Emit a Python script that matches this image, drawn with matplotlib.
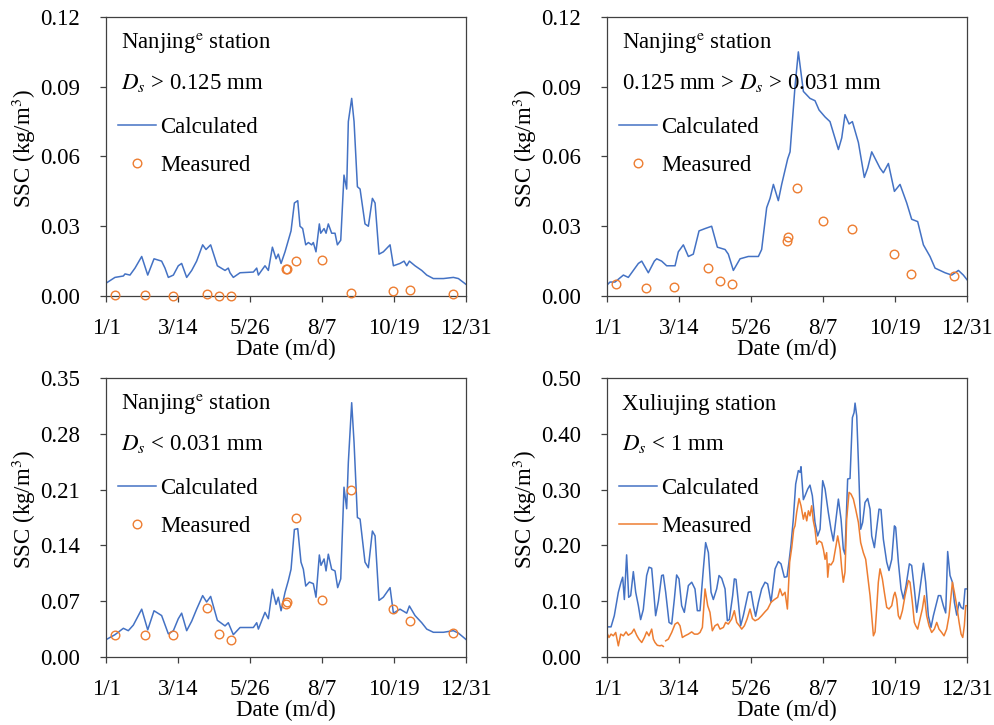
import numpy as np
import matplotlib
matplotlib.use("Agg")
import matplotlib.pyplot as plt

plt.rcParams['font.family'] = ['Liberation Serif', 'DejaVu Serif']
plt.rcParams['mathtext.fontset'] = 'stix'

BLUE = '#4472C4'
ORANGE = '#ED7D31'

# x axis: day index from 1/1 (leap year), ticks every 73 days
tick_days = [0, 73, 146, 219, 292, 365]
tick_labels = ['1/1', '3/14', '5/26', '8/7', '10/19', '12/31']

# ---- Panel (a): Nanjing, Ds > 0.125 mm ----
a_calc_day = [0, 9.1, 17.6, 19.3, 24.3, 29.4, 36.2, 42.3, 48.7, 56.4, 59.8, 63.2, 68.3, 73.3, 76.7,
              81.8, 86.9, 91.9, 98.0, 101.4, 106.1, 112.9, 120.7, 124.0, 125.7, 129.1, 135.9, 149.4,
              152.8, 154.5, 157.8, 161.2, 164.6, 168.7, 172.4, 174.7, 177.5, 181.5, 184.9, 187.6,
              191.0, 194.4, 196.7, 199.4, 202.5, 205.2, 208.5, 210.2, 212.9, 216.3, 217.7, 221.1,
              223.1, 225.4, 228.8, 232.2, 234.6, 238.0, 241.3, 244.0, 245.7, 249.1, 251.5, 254.9,
              257.6, 262.6, 266.0, 270.1, 272.8, 276.8, 281.2, 288.0, 291.4, 298.1, 302.2, 304.9,
              307.6, 313.3, 320.1, 325.2, 331.9, 342.1, 352.2, 357.3, 365]
a_calc_val = [0.0055, 0.008, 0.0086, 0.0095, 0.009, 0.012, 0.017, 0.009, 0.016, 0.015, 0.012, 0.008,
              0.009, 0.013, 0.014, 0.008, 0.011, 0.015, 0.022, 0.020, 0.022, 0.013, 0.011, 0.012,
              0.010, 0.008, 0.010, 0.0103, 0.012, 0.009, 0.011, 0.013, 0.011, 0.021, 0.016, 0.018,
              0.014, 0.019, 0.024, 0.028, 0.040, 0.041, 0.030, 0.029, 0.022, 0.023, 0.022, 0.023,
              0.019, 0.031, 0.027, 0.029, 0.027, 0.031, 0.027, 0.027, 0.022, 0.024, 0.052, 0.046,
              0.075, 0.085, 0.075, 0.047, 0.046, 0.031, 0.030, 0.042, 0.040, 0.018, 0.019, 0.022,
              0.013, 0.014, 0.015, 0.013, 0.015, 0.013, 0.011, 0.009, 0.0075, 0.0075, 0.008,
              0.0075, 0.005]

meas_day = [9, 40, 68, 102, 115, 127, 182, 184, 193, 219, 248, 291, 308, 352]
a_meas_val = [0.0003, 0.0006, 0.0001, 0.001, 0.0, 0.0, 0.0115, 0.0115, 0.015, 0.0154,
              0.0011, 0.0023, 0.0026, 0.001]

# ---- Panel (b): Nanjing, 0.125 > Ds > 0.031 mm ----
b_calc_day = [0, 3.0, 8.1, 16.6, 21.6, 31.8, 35.2, 41.9, 48.0, 50.4, 55.4, 60.5, 69.0, 72.3, 77.4,
              82.5, 87.5, 93.3, 99.4, 106.1, 111.9, 119.7, 123.0, 128.1, 134.9, 143.3, 153.5, 156.8,
              161.9, 165.3, 168.7, 173.7, 177.1, 183.2, 185.6, 190.6, 194.0, 199.1, 205.8, 210.9,
              215.0, 221.1, 226.1, 234.6, 238.0, 241.3, 245.4, 248.8, 254.9, 260.9, 264.3, 268.4,
              276.8, 280.2, 285.3, 291.4, 297.1, 303.9, 308.9, 315.0, 320.8, 327.5, 332.6, 342.7,
              349.5, 356.3, 361.3, 365]
b_calc_val = [0.0047, 0.006, 0.006, 0.009, 0.008, 0.014, 0.015, 0.010, 0.015, 0.016, 0.015, 0.013,
              0.013, 0.019, 0.022, 0.017, 0.018, 0.028, 0.029, 0.030, 0.021, 0.020, 0.018, 0.011,
              0.016, 0.017, 0.017, 0.020, 0.038, 0.042, 0.048, 0.041, 0.048, 0.059, 0.062, 0.090,
              0.105, 0.088, 0.085, 0.084, 0.080, 0.077, 0.075, 0.063, 0.068, 0.078, 0.074, 0.075,
              0.066, 0.051, 0.055, 0.062, 0.055, 0.053, 0.057, 0.045, 0.048, 0.040, 0.033, 0.032,
              0.022, 0.017, 0.012, 0.010, 0.009, 0.011, 0.009, 0.007]
b_meas_val = [0.0053, 0.0036, 0.0037, 0.012, 0.0066, 0.005, 0.0237, 0.0254, 0.0465, 0.0323,
              0.029, 0.018, 0.0093, 0.0085]

# ---- Panel (c): Nanjing, Ds < 0.031 mm ----
c_calc_day = [0, 9.1, 17.6, 22.6, 27.7, 36.2, 42.3, 48.7, 56.4, 63.2, 68.3, 73.3, 76.7, 81.8, 86.9,
              91.9, 98.0, 102.0, 106.1, 112.9, 120.7, 124.0, 129.1, 135.9, 149.4, 152.8, 154.5,
              161.2, 164.6, 168.7, 172.4, 174.7, 177.5, 181.5, 184.9, 187.6, 191.0, 194.4, 197.7,
              200.1, 202.5, 206.2, 210.2, 212.9, 216.3, 218.0, 221.1, 223.1, 225.4, 228.8, 232.2,
              234.9, 238.0, 241.3, 244.0, 245.7, 249.1, 251.5, 254.9, 257.6, 262.6, 266.0, 270.1,
              272.8, 276.8, 281.2, 288.0, 291.4, 298.1, 302.2, 304.9, 307.6, 313.3, 320.1, 325.2,
              331.9, 342.1, 352.2, 357.3, 365]
c_calc_val = [0.0217, 0.028, 0.036, 0.033, 0.040, 0.060, 0.034, 0.058, 0.052, 0.029, 0.033, 0.048,
              0.055, 0.033, 0.045, 0.060, 0.077, 0.069, 0.076, 0.046, 0.039, 0.043, 0.028, 0.037,
              0.037, 0.043, 0.035, 0.056, 0.048, 0.085, 0.066, 0.075, 0.058, 0.081, 0.096, 0.110,
              0.160, 0.161, 0.119, 0.110, 0.089, 0.094, 0.092, 0.075, 0.128, 0.115, 0.123, 0.108,
              0.129, 0.110, 0.108, 0.087, 0.098, 0.213, 0.186, 0.244, 0.319, 0.269, 0.175, 0.173,
              0.119, 0.112, 0.158, 0.152, 0.071, 0.075, 0.087, 0.055, 0.060, 0.057, 0.055, 0.064,
              0.052, 0.043, 0.035, 0.031, 0.031, 0.033, 0.030, 0.022]
c_meas_val = [0.0276, 0.027, 0.028, 0.061, 0.029, 0.0217, 0.067, 0.069, 0.174, 0.0715,
              0.209, 0.060, 0.0455, 0.030]

# ---- Panel (d): Xuliujing, Ds < 1 mm ----
d_calc_day = [0, 4.1, 7.4, 11.5, 14.2, 15.9, 17.6, 19.9, 22.0, 24.0, 26.7, 29.1, 31.8, 34.1, 36.8,
              40.2, 42.6, 45.3, 47.7, 49.3, 52.1, 55.4, 57.1, 59.5, 62.9, 65.6, 68.3, 70.6, 73.0,
              75.7, 78.4, 82.5, 85.9, 89.2, 91.6, 94.3, 97.7, 100.0, 102.8, 105.5, 107.8, 111.2,
              113.6, 116.3, 119.7, 122.0, 124.0, 127.4, 129.1, 130.8, 133.2, 135.5, 138.2, 143.3,
              146.0, 148.4, 150.7, 153.5, 156.8, 160.2, 162.9, 166.3, 170.4, 173.7, 176.4, 179.8,
              182.5, 184.5, 186.6, 188.9, 191.3, 194.0, 195.7, 196.7, 199.1, 200.8, 203.5, 205.8,
              208.2, 210.9, 213.6, 216.0, 218.7, 221.1, 224.4, 227.1, 229.5, 232.2, 234.6, 237.3,
              239.6, 241.3, 244.0, 246.4, 248.8, 250.5, 251.5, 253.2, 254.9, 257.2, 259.2, 261.6,
              264.3, 266.7, 268.4, 271.1, 273.4, 275.8, 277.8, 280.2, 283.6, 285.9, 288.7, 291.4,
              292.7, 295.4, 298.1, 300.5, 303.2, 306.6, 308.9, 311.6, 314.0, 316.4, 320.8, 323.1,
              325.8, 328.5, 330.9, 336.0, 338.3, 341.0, 343.4, 345.4, 347.8, 350.2, 352.2, 354.6,
              357.0, 359.0, 361.3, 363.0, 365]
d_calc_val = [0.054, 0.054, 0.074, 0.116, 0.134, 0.143, 0.103, 0.183, 0.107, 0.110, 0.153, 0.116,
              0.092, 0.067, 0.085, 0.146, 0.161, 0.159, 0.110, 0.074, 0.100, 0.146, 0.147, 0.116,
              0.062, 0.059, 0.104, 0.147, 0.140, 0.092, 0.080, 0.128, 0.134, 0.122, 0.083, 0.083,
              0.158, 0.205, 0.187, 0.116, 0.103, 0.122, 0.146, 0.141, 0.122, 0.065, 0.067, 0.110,
              0.140, 0.139, 0.098, 0.056, 0.074, 0.116, 0.117, 0.092, 0.073, 0.098, 0.122, 0.134,
              0.131, 0.098, 0.158, 0.171, 0.167, 0.143, 0.144, 0.170, 0.202, 0.247, 0.310, 0.334,
              0.331, 0.341, 0.282, 0.289, 0.301, 0.308, 0.289, 0.241, 0.217, 0.229, 0.316, 0.301,
              0.259, 0.229, 0.208, 0.247, 0.283, 0.247, 0.193, 0.184, 0.319, 0.320, 0.429, 0.438,
              0.455, 0.432, 0.349, 0.229, 0.241, 0.277, 0.284, 0.265, 0.217, 0.196, 0.229, 0.265,
              0.264, 0.211, 0.170, 0.155, 0.175, 0.235, 0.232, 0.170, 0.122, 0.104, 0.128, 0.167,
              0.164, 0.122, 0.080, 0.110, 0.168, 0.134, 0.074, 0.053, 0.074, 0.110, 0.110, 0.092,
              0.079, 0.189, 0.146, 0.134, 0.098, 0.075, 0.098, 0.089, 0.086, 0.122, 0.122]

d_meas_day = [0, 2.0, 4.1, 6.4, 8.8, 11.5, 13.9, 16.6, 19.3, 21.6, 25.0, 27.4, 30.1, 32.4, 35.2,
              37.9, 40.2, 42.6, 45.3, 47.0, 48.7, 51.0, 53.7, 55.4, 57.1, 58.3, 59.5, 62.2, 65.6,
              69.0, 71.7, 74.0, 76.4, 79.1, 82.5, 85.9, 88.6, 91.9, 94.3, 96.7, 99.4, 102.1, 104.4,
              106.8, 109.5, 112.2, 114.6, 118.0, 120.3, 123.0, 126.4, 129.1, 131.5, 134.2, 136.6,
              139.3, 142.0, 145.0, 147.4, 150.1, 153.5, 156.8, 160.2, 162.9, 166.3, 169.7, 173.1,
              175.4, 177.8, 180.5, 182.9, 183.9, 185.2, 187.3, 189.3, 190.6, 192.3, 194.7, 196.7,
              199.1, 200.8, 202.5, 204.2, 205.8, 207.5, 209.2, 210.9, 212.6, 215.0, 217.7, 219.4,
              221.1, 222.7, 223.8, 225.1, 227.1, 229.5, 231.9, 233.9, 236.3, 238.0, 239.6, 241.3,
              243.0, 245.4, 247.4, 249.8, 252.1, 254.9, 257.2, 259.9, 262.3, 264.3, 266.7, 268.4,
              270.1, 271.8, 273.4, 275.1, 276.8, 279.2, 281.2, 283.6, 285.9, 288.7, 290.7, 292.0,
              293.7, 295.4, 297.1, 299.5, 302.2, 305.6, 307.2, 309.6, 311.6, 313.0, 315.0, 317.4,
              319.7, 321.8, 324.1, 326.5, 329.2, 331.9, 334.3, 336.6, 339.3, 341.7, 344.4, 346.8,
              348.8, 350.2, 352.2, 354.6, 357.0, 359.0, 360.7, 362.3, 363.7, 365]
d_meas_val = [0.043, 0.035, 0.041, 0.038, 0.044, 0.020, 0.041, 0.038, 0.045, 0.039, 0.043, 0.050,
              0.039, 0.032, 0.026, 0.035, 0.045, 0.038, 0.050, 0.032, 0.026, 0.021, 0.020, 0.021,
              0.019, np.nan, 0.029, 0.032, 0.044, 0.059, 0.062, 0.056, 0.035, 0.038, 0.041, 0.045,
              0.041, 0.041, 0.044, 0.053, 0.122, 0.092, 0.080, 0.047, 0.056, 0.059, 0.050, 0.053,
              0.062, 0.059, 0.068, 0.083, 0.062, 0.056, 0.050, 0.056, 0.068, 0.086, 0.069, 0.065,
              0.068, 0.074, 0.081, 0.086, 0.098, 0.103, 0.107, 0.122, 0.110, 0.116, 0.086, 0.122,
              0.170, 0.196, 0.229, 0.235, 0.259, 0.284, 0.271, 0.247, 0.259, 0.244, 0.262, 0.253,
              0.271, 0.244, 0.229, 0.202, 0.208, 0.205, 0.193, 0.175, 0.187, 0.143, 0.167, 0.165,
              0.172, 0.196, 0.217, 0.193, 0.158, 0.134, 0.152, 0.247, 0.295, 0.292, 0.283, 0.265,
              0.241, 0.205, 0.187, 0.175, 0.146, 0.110, 0.074, 0.038, 0.045, 0.086, 0.134, 0.158,
              0.140, 0.116, 0.089, 0.086, 0.092, 0.110, 0.116, 0.104, 0.074, 0.068, 0.083, 0.110,
              0.137, 0.134, 0.098, 0.062, 0.056, 0.050, 0.068, 0.086, 0.110, 0.074, 0.056, 0.044,
              0.050, 0.062, 0.050, 0.044, 0.038, 0.050, 0.074, 0.110, 0.134, 0.116, 0.092, 0.062,
              0.041, 0.035, 0.056, 0.092, 0.092]

FS = 16.5
fig = plt.figure(figsize=(9.95, 7.25), dpi=100)

W = 360 / 995
H = 279 / 725
positions = [(106 / 995, (725 - 296) / 725), (607 / 995, (725 - 296) / 725),
             (106 / 995, (725 - 657) / 725), (607 / 995, (725 - 657) / 725)]

panels = [
    dict(calc=(a_calc_day, a_calc_val), meas=(meas_day, a_meas_val), line_meas=False,
         ymax=0.12, yticks=[0, 0.03, 0.06, 0.09, 0.12],
         t1='Nanjing$^{\\mathrm{e}}$ station', t2='$D_s$ > 0.125 mm'),
    dict(calc=(b_calc_day, b_calc_val), meas=(meas_day, b_meas_val), line_meas=False,
         ymax=0.12, yticks=[0, 0.03, 0.06, 0.09, 0.12],
         t1='Nanjing$^{\\mathrm{e}}$ station', t2='0.125 mm > $D_s$ > 0.031 mm'),
    dict(calc=(c_calc_day, c_calc_val), meas=(meas_day, c_meas_val), line_meas=False,
         ymax=0.35, yticks=[0, 0.07, 0.14, 0.21, 0.28, 0.35],
         t1='Nanjing$^{\\mathrm{e}}$ station', t2='$D_s$ < 0.031 mm'),
    dict(calc=(d_calc_day, d_calc_val), meas=(d_meas_day, d_meas_val), line_meas=True,
         ymax=0.50, yticks=[0, 0.1, 0.2, 0.3, 0.4, 0.5],
         t1='Xuliujing station', t2='$D_s$ < 1 mm'),
]

SP = '#404040'
for (l, b), p in zip(positions, panels):
    ax = fig.add_axes([l, b, W, H])
    ax.plot(p['calc'][0], p['calc'][1], color=BLUE, lw=1.1, label='Calculated')
    if p['line_meas']:
        ax.plot(p['meas'][0], p['meas'][1], color=ORANGE, lw=1.1, label='Measured')
    else:
        ax.plot(p['meas'][0], p['meas'][1], ls='none', marker='o', ms=6.2, mfc='none',
                mec=ORANGE, mew=1.0, label='Measured', clip_on=False, zorder=3)
    ax.set_xlim(0, 365)
    ax.set_ylim(0, p['ymax'])
    ax.set_xticks(tick_days)
    ax.set_xticklabels(tick_labels)
    ax.set_yticks(p['yticks'])
    ax.set_yticklabels([f'{v:.2f}' for v in p['yticks']])
    ax.tick_params(axis='both', direction='out', length=4.5, width=0.9, color=SP,
                   labelsize=FS)
    ax.tick_params(axis='y', pad=14)
    ax.tick_params(axis='x', pad=11)
    for s in ax.spines.values():
        s.set_color(SP)
        s.set_linewidth(0.9)
    ax.set_xlabel('Date (m/d)', fontsize=FS, labelpad=0)
    ax.set_ylabel('SSC (kg/m$^3$)', fontsize=FS)
    ax.yaxis.set_label_coords(-0.19, 0.53)
    ax.text(0.043, 0.885, p['t1'], transform=ax.transAxes, fontsize=FS, va='baseline')
    ax.text(0.043, 0.741, p['t2'], transform=ax.transAxes, fontsize=FS, va='baseline')
    ax.legend(loc='center left', bbox_to_anchor=(0.033, 0.535), frameon=False,
              fontsize=FS, handlelength=1.66, handletextpad=0.2, labelspacing=0.75,
              borderpad=0, borderaxespad=0)

fig.savefig('out.png', dpi=100)
